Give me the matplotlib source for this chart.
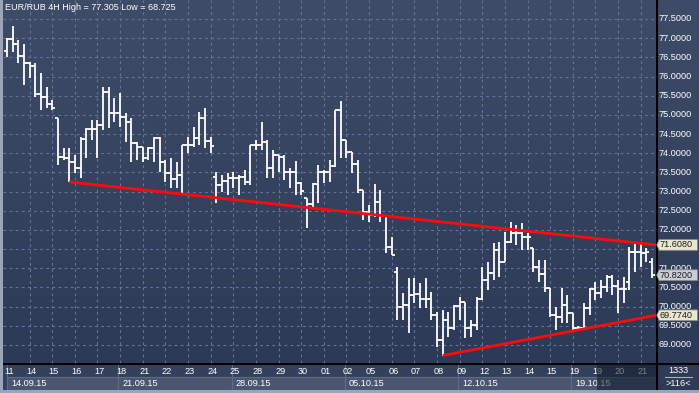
import numpy as np
import matplotlib
matplotlib.use('Agg')
import matplotlib.pyplot as plt
from matplotlib.colors import LinearSegmentedColormap
from matplotlib.patches import Rectangle, Polygon

# EUR/RUB 4H bars
opens = [76.67, 76.98, 76.85, 76.54, 76.35, 76.27, 75.54, 75.47, 75.28, 74.92,
         73.90, 73.88, 73.77, 73.61, 74.37, 74.63, 74.63, 74.74, 75.60, 75.05,
         75.05, 74.94, 74.81, 74.27, 74.16, 73.88, 74.14, 74.40, 73.77, 73.48,
         73.33, 73.43, 74.21, 74.21, 74.40, 74.92, 74.32, 73.38, 73.17, 73.28,
         73.35, 73.35, 73.38, 73.25, 74.21, 74.21, 74.29, 73.61, 73.95, 73.90,
         73.51, 73.51, 73.22, 72.83, 72.68, 73.20, 73.51, 73.51, 73.67, 75.13,
         74.34, 74.03, 73.72, 73.04, 72.47, 72.39, 72.73, 72.36, 71.55, 70.90,
         69.99, 70.04, 70.30, 70.33, 70.20, 70.20, 69.78, 69.13, 69.65, 69.44,
         70.02, 70.12, 69.44, 69.52, 70.20, 70.69, 70.88, 71.48, 71.16, 71.69,
         71.92, 71.92, 71.82, 71.53, 71.03, 70.85, 70.49, 69.78, 69.73, 70.04,
         69.83, 69.44, 69.44, 69.96, 70.46, 70.36, 70.51, 70.77, 70.54, 70.46,
         70.64, 71.42, 71.42, 71.40, 71.16]
highs = [77.00, 77.305, 76.95, 76.85, 76.38, 76.35, 76.09, 75.73, 75.39, 74.92,
         74.14, 74.14, 73.95, 74.42, 74.66, 74.87, 74.87, 75.73, 75.73, 75.44,
         75.57, 75.05, 74.92, 74.29, 74.16, 74.16, 74.42, 74.42, 73.82, 73.88,
         73.77, 74.21, 74.42, 74.68, 75.07, 75.18, 74.42, 73.51, 73.43, 73.48,
         73.51, 73.43, 73.56, 74.21, 74.34, 74.81, 74.34, 74.08, 73.95, 73.95,
         73.61, 73.80, 73.25, 72.83, 73.22, 73.69, 73.56, 73.82, 75.13, 75.36,
         74.34, 74.03, 73.82, 73.04, 72.65, 73.20, 73.04, 72.39, 71.82, 71.03,
         70.36, 70.75, 70.75, 70.62, 70.75, 70.38, 69.86, 69.91, 69.86, 70.04,
         70.25, 70.12, 69.65, 70.25, 71.03, 71.16, 71.66, 71.69, 71.95, 72.21,
         72.13, 72.18, 71.92, 71.53, 71.22, 71.22, 70.49, 69.99, 70.49, 70.30,
         69.83, 69.49, 70.09, 70.49, 70.64, 70.69, 70.82, 70.82, 70.69, 70.77,
         71.55, 71.66, 71.66, 71.53, 71.27]
lows = [76.51, 76.64, 76.35, 75.78, 75.96, 75.47, 75.13, 75.18, 75.13, 73.69,
        73.82, 73.25, 73.48, 73.35, 73.88, 74.34, 73.88, 74.61, 74.66, 74.81,
        74.68, 74.29, 73.77, 73.82, 73.77, 73.82, 73.77, 73.51, 73.25, 73.09,
        73.09, 72.96, 74.01, 74.16, 74.21, 74.14, 74.01, 72.70, 72.99, 72.91,
        73.09, 72.91, 73.17, 73.17, 74.08, 74.08, 73.35, 73.35, 73.51, 73.30,
        73.09, 72.91, 72.91, 72.05, 72.57, 72.70, 73.22, 73.25, 73.64, 73.88,
        73.88, 73.48, 72.96, 72.26, 72.21, 72.34, 72.21, 71.40, 71.35, 69.65,
        69.65, 69.31, 70.09, 69.96, 69.96, 69.65, 68.95, 68.725, 69.21, 69.39,
        69.65, 69.18, 69.21, 69.39, 70.17, 70.43, 70.69, 70.77, 71.16, 71.66,
        71.61, 71.48, 71.48, 70.90, 70.64, 70.38, 69.73, 69.39, 69.57, 69.57,
        69.34, 69.39, 69.44, 69.78, 70.17, 70.22, 70.38, 70.30, 69.83, 70.09,
        70.43, 70.90, 71.03, 71.16, 70.75]
closes = [76.98, 76.85, 76.54, 76.35, 76.27, 75.54, 75.47, 75.28, 75.18, 73.90,
          73.88, 73.77, 73.61, 74.37, 74.63, 74.63, 74.74, 75.60, 75.05, 75.05,
          74.94, 74.81, 74.27, 74.16, 73.88, 74.14, 74.40, 73.77, 73.48, 73.33,
          73.43, 74.21, 74.21, 74.40, 74.92, 74.32, 74.19, 73.17, 73.28, 73.35,
          73.35, 73.38, 73.25, 74.21, 74.21, 74.29, 73.61, 73.95, 73.90, 73.51,
          73.51, 73.22, 73.01, 72.68, 73.20, 73.51, 73.51, 73.67, 75.13, 74.34,
          74.03, 73.72, 73.04, 72.47, 72.39, 72.73, 72.36, 71.55, 71.35, 69.99,
          70.04, 70.30, 70.33, 70.20, 70.20, 69.78, 69.13, 69.65, 69.44, 70.02,
          70.12, 69.44, 69.52, 70.20, 70.69, 70.88, 71.48, 71.16, 71.69, 71.92,
          71.92, 71.82, 71.82, 71.03, 70.85, 70.49, 69.78, 69.73, 70.04, 69.83,
          69.44, 69.44, 69.96, 70.46, 70.36, 70.51, 70.77, 70.54, 70.46, 70.46,
          71.42, 71.42, 71.40, 71.42, 70.82]

day_labels = ['11', '14', '15', '16', '17', '18', '21', '22', '23', '24', '25',
              '28', '29', '30', '01', '02', '05', '06', '07', '08', '09', '12',
              '13', '14', '15', '19', '19', '20', '21']
week_labels = ['14.09.15', '21.09.15', '28.09.15', '05.10.15', '12.10.15', '19.10.15']
week_start_day = [0, 5, 10, 15, 20, 25]
price_ticks = [69.0, 69.5, 70.0, 70.5, 71.0, 71.5, 72.0, 72.5, 73.0, 73.5,
               74.0, 74.5, 75.0, 75.5, 76.0, 76.5, 77.0, 77.5]

# trend lines (bar index, price)
upper_x, upper_y = [11, 114.7], [73.25, 71.608]
lower_x, lower_y = [77, 114.7], [68.725, 69.774]
last_price = 70.82

BARS_PER_DAY = 4
XLIM = (-0.7, 114.7)
YLIM = (68.53, 77.995)
FONT = 'Liberation Sans'

fig = plt.figure(figsize=(6.99, 3.93), dpi=100, facecolor='#9ba5b7')
W, H = 699.0, 393.0

bg = LinearSegmentedColormap.from_list('bg', ['#2d3a57', '#3f4c67'])

ax = fig.add_axes([3 / W, 30 / H, 653 / W, 363 / H])
ax.imshow(np.linspace(0, 1, 256).reshape(-1, 1), cmap=bg, origin='lower',
          extent=[0, 1, 0, 1], transform=ax.transAxes, aspect='auto', zorder=0)
x = np.arange(len(closes))
grid_c = '#64739a'
for p in price_ticks:
    ax.axhline(p, color=grid_c, lw=0.8, ls=(0, (2.5, 3)), zorder=1)
for d in range(1, len(day_labels)):
    ax.axvline(d * BARS_PER_DAY, color=grid_c, lw=0.8, ls=(0, (2.5, 3)), zorder=1)

ax.vlines(x, lows, highs, color='white', lw=1.3, zorder=3)
ax.hlines(opens, x - 0.55, x, color='white', lw=1.3, zorder=3)
ax.hlines(closes, x, x + 0.55, color='white', lw=1.3, zorder=3)

ax.plot(upper_x, upper_y, color='#ff0a0a', lw=2.0, zorder=4, solid_capstyle='butt')
ax.plot(lower_x, lower_y, color='#ff0a0a', lw=2.0, zorder=4, solid_capstyle='butt')

ax.set_xlim(*XLIM)
ax.set_ylim(*YLIM)
ax.set_xticks([])
ax.set_yticks([])
for s in ax.spines.values():
    s.set_visible(False)
ax.text(0.003, 0.993, 'EUR/RUB 4H High = 77.305 Low = 68.725', transform=ax.transAxes,
        ha='left', va='top', color='white', fontsize=6.5, family=FONT, zorder=6)

# right price axis
axr = fig.add_axes([656 / W, 30 / H, 43 / W, 363 / H])
axr.imshow(np.linspace(0, 1, 256).reshape(-1, 1), cmap=bg, origin='lower',
           extent=[0, 1, 0, 1], transform=axr.transAxes, aspect='auto', zorder=0)
axr.set_xlim(0, 43)
axr.set_ylim(*YLIM)
axr.axvline(0.5, color='black', lw=1.5)
tags = [(upper_y[-1], '#e9e6cf'), (last_price, '#c9cdd6'), (lower_y[-1], '#e9e6cf')]
for p in price_ticks:
    # a label fully covered by a price tag is not visible in the original
    if min(abs(p - t) for t, _ in tags) < 0.12:
        continue
    axr.text(2.5, p, f'{p:.4f}', ha='left', va='center', color='white',
             fontsize=6.6, family=FONT, zorder=2)


def price_tag(p, face):
    h = 0.14
    axr.add_patch(Polygon([(0.8, p), (3.2, p + h), (41.5, p + h), (41.5, p - h), (3.2, p - h)],
                          closed=True, facecolor=face, edgecolor='#8a8a80', lw=0.6, zorder=4))
    axr.text(3.6, p, f'{p:.4f}', ha='left', va='center', color='#1c1c1c',
             fontsize=6.6, family=FONT, zorder=5)


for p, face in tags:
    price_tag(p, face)
axr.set_xticks([])
axr.set_yticks([])
for s in axr.spines.values():
    s.set_visible(False)

# time axis
axb = fig.add_axes([3 / W, 3 / H, 653 / W, 27 / H])
axb.set_facecolor('#34415b')
axb.set_xlim(*XLIM)
axb.set_ylim(27, 0)
axb.axhline(0.6, color='black', lw=1.5)
for d, lab in enumerate(day_labels):
    axb.text(d * BARS_PER_DAY + 0.3, 8, lab, ha='center', va='center', color='white',
             fontsize=6.6, family=FONT)
ends = week_start_day[1:] + [None]
for s0, s1, lab in zip(week_start_day, ends, week_labels):
    xa = s0 * BARS_PER_DAY - 0.3 if s0 > 0 else 0.0
    xb = s1 * BARS_PER_DAY - 0.3 if s1 is not None else XLIM[1]
    axb.add_patch(Rectangle((xa, 14), xb - xa, 12.5, facecolor='#4a5670',
                            edgecolor='#5f6b84', lw=0.8, zorder=1))
    axb.axvline(xa, ymin=0.0, ymax=0.93, color='#5f6b84', lw=0.8, zorder=1)
    axb.text(xa + 0.7, 20.5, lab, ha='left', va='center', color='white',
             fontsize=6.6, family=FONT, zorder=2)
axb.add_patch(Rectangle((104.2, 1.2), XLIM[1] - 104.2, 25.3, facecolor='#10182a',
                        alpha=0.55, lw=0, zorder=3))
axb.set_xticks([])
axb.set_yticks([])
for s in axb.spines.values():
    s.set_visible(False)

# bottom-right corner
axc = fig.add_axes([656 / W, 3 / H, 43 / W, 27 / H])
axc.set_facecolor('#2f3b55')
axc.set_xlim(0, 43)
axc.set_ylim(27, 0)
axc.axhline(0.6, color='black', lw=1.5)
axc.axvline(0.5, color='black', lw=1.5)
axc.text(22, 7.5, '1333', ha='center', va='center', color='white', fontsize=6.6, family=FONT)
axc.plot([9, 36], [14, 14], color='#aab2c2', lw=0.8)
axc.text(22, 20.5, '>116<', ha='center', va='center', color='white', fontsize=6.6, family=FONT)
axc.set_xticks([])
axc.set_yticks([])
for s in axc.spines.values():
    s.set_visible(False)

fig.savefig('out.png', dpi=100, facecolor=fig.get_facecolor())
